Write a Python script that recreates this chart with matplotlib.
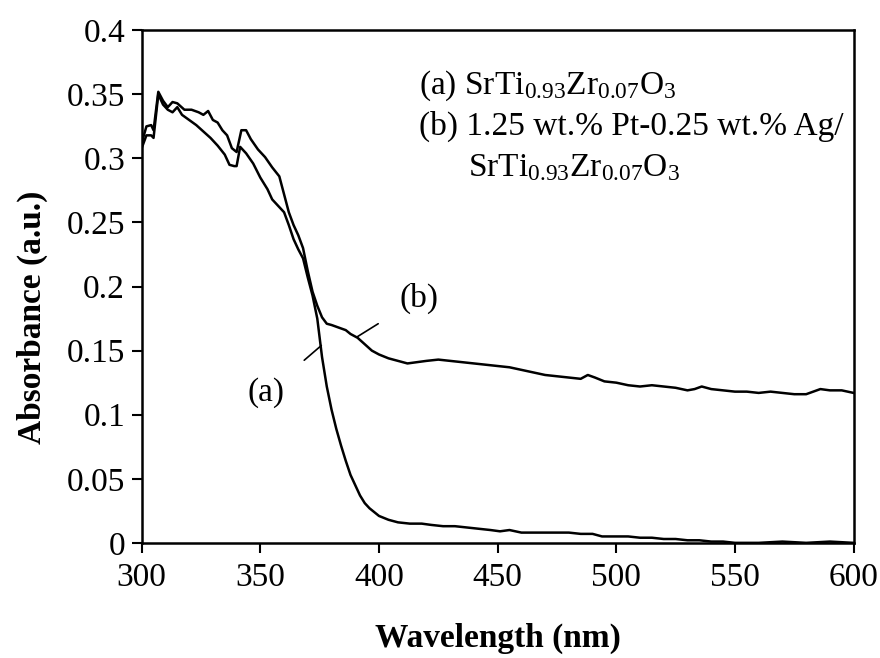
import matplotlib
matplotlib.use("Agg")
from matplotlib import pyplot as plt
import numpy as np

plt.rcParams['font.family'] = ['Liberation Serif', 'DejaVu Serif']
plt.rcParams['mathtext.fontset'] = 'custom'
plt.rcParams['mathtext.rm'] = 'Liberation Serif'
plt.rcParams['mathtext.it'] = 'Liberation Serif:italic'
plt.rcParams['mathtext.bf'] = 'Liberation Serif:bold'

# (a) SrTi0.93Zr0.07O3
wl_a = [300, 302, 304, 305, 307, 309, 311, 313, 315, 317, 320, 323, 326, 329, 332, 335, 337, 339, 340,
        341.5, 344, 347, 350, 353, 355, 358, 360, 362, 364, 366, 368, 370, 372, 374, 376, 378, 380,
        382, 384, 386, 388, 390, 392, 394, 396, 398, 400, 404, 408, 413, 418, 422, 427, 432, 437,
        442, 447, 451, 455, 460, 465, 470, 475, 480, 485, 490, 494, 500, 505, 510, 515, 520, 525,
        530, 535, 540, 545, 550, 555, 560, 570, 580, 590, 600]
abs_a = [0.308, 0.318, 0.318, 0.316, 0.350, 0.342, 0.338, 0.336, 0.340, 0.334, 0.330, 0.326, 0.321,
         0.316, 0.310, 0.303, 0.295, 0.294, 0.294, 0.309, 0.304, 0.296, 0.285, 0.276, 0.268, 0.262,
         0.258, 0.248, 0.237, 0.229, 0.222, 0.207, 0.193, 0.175, 0.145, 0.122, 0.104, 0.089, 0.076,
         0.064, 0.053, 0.045, 0.037, 0.031, 0.027, 0.024, 0.021, 0.018, 0.016, 0.015, 0.015, 0.014,
         0.013, 0.013, 0.012, 0.011, 0.010, 0.009, 0.010, 0.008, 0.008, 0.008, 0.008, 0.008, 0.007,
         0.007, 0.005, 0.005, 0.005, 0.004, 0.004, 0.003, 0.003, 0.002, 0.002, 0.001, 0.001, 0.000,
         0.000, 0.000, 0.001, 0.000, 0.001, 0.000]

# (b) 1.25 wt.% Pt-0.25 wt.% Ag/SrTi0.93Zr0.07O3
wl_b = [300, 302, 304, 305, 307, 309, 311, 313, 315, 318, 321, 324, 326, 328, 330, 332, 334, 336, 338,
        340, 342, 344, 346, 349, 352, 355, 358, 360, 362, 364, 366, 368, 370, 372, 374, 376, 378,
        380, 383, 386, 388, 391, 394, 397, 400, 404, 408, 412, 416, 420, 425, 430, 435, 440, 445,
        450, 455, 460, 465, 470, 475, 480, 485, 488, 491, 495, 500, 505, 510, 515, 520, 525, 530,
        533, 536, 540, 545, 550, 555, 560, 565, 570, 575, 580, 583, 586, 590, 595, 600]
abs_b = [0.312, 0.325, 0.326, 0.322, 0.352, 0.345, 0.340, 0.344, 0.343, 0.338, 0.338, 0.336, 0.334,
         0.337, 0.330, 0.328, 0.322, 0.318, 0.308, 0.305, 0.322, 0.322, 0.315, 0.307, 0.301, 0.293,
         0.286, 0.272, 0.258, 0.248, 0.240, 0.230, 0.212, 0.196, 0.185, 0.176, 0.171, 0.170, 0.168,
         0.166, 0.163, 0.160, 0.155, 0.150, 0.147, 0.144, 0.142, 0.140, 0.141, 0.142, 0.143, 0.142,
         0.141, 0.140, 0.139, 0.138, 0.137, 0.135, 0.133, 0.131, 0.130, 0.129, 0.128, 0.131, 0.129,
         0.126, 0.125, 0.123, 0.122, 0.123, 0.122, 0.121, 0.119, 0.120, 0.122, 0.120, 0.119, 0.118,
         0.118, 0.117, 0.118, 0.117, 0.116, 0.116, 0.118, 0.120, 0.119, 0.119, 0.117]

x_ticks = [300, 350, 400, 450, 500, 550, 600]
y_ticks = [0, 0.05, 0.1, 0.15, 0.2, 0.25, 0.3, 0.35, 0.4]
y_labels = ['0', '0.05', '0.1', '0.15', '0.2', '0.25', '0.3', '0.35', '0.4']

fs = 24

fig = plt.figure(figsize=(8.8, 6.58), dpi=100)
ax = fig.add_axes([0.161, 0.175, 0.809, 0.779])

ax.plot(wl_a, abs_a, color='black', lw=1.8)
ax.plot(wl_b, abs_b, color='black', lw=1.8)

ax.set_xlim(300, 600)
ax.set_ylim(0, 0.4)
ax.set_xticks(x_ticks)
ax.set_yticks(y_ticks)
ax.set_yticklabels(y_labels)
ax.tick_params(direction='out', length=7, width=1.5, labelsize=fs, pad=5)
ax.tick_params(axis='x', pad=7)
for s in ax.spines.values():
    s.set_linewidth(1.8)

ax.set_xlabel('Wavelength (nm)', fontsize=fs, fontweight='bold')
ax.set_ylabel('Absorbance (a.u.)', fontsize=fs, fontweight='bold')
ax.xaxis.set_label_coords(0.5, -0.155)
ax.yaxis.set_label_coords(-0.132, 0.44)

# curve labels with leader lines
ax.annotate('(a)', xy=(375.7, 0.154), xytext=(352.5, 0.117), fontsize=fs,
            ha='center', va='center',
            arrowprops=dict(arrowstyle='-', color='black', lw=1.2, shrinkA=16, shrinkB=0))
ax.annotate('(b)', xy=(391, 0.161), xytext=(417, 0.191), fontsize=fs,
            ha='center', va='center',
            arrowprops=dict(arrowstyle='-', color='black', lw=1.2, shrinkA=16, shrinkB=0))

# legend-like text
ax.text(417, 0.357, r'(a) SrTi$_{\mathrm{0.93}}$Zr$_{\mathrm{0.07}}$O$_{\mathrm{3}}$',
        fontsize=fs, va='center', ha='left')
ax.text(417, 0.325, '(b) 1.25 wt.% Pt-0.25 wt.% Ag/', fontsize=fs, va='center', ha='left')
ax.text(437.4, 0.293, r'SrTi$_{\mathrm{0.93}}$Zr$_{\mathrm{0.07}}$O$_{\mathrm{3}}$',
        fontsize=fs, va='center', ha='left')

fig.savefig('out.png', dpi=100)
